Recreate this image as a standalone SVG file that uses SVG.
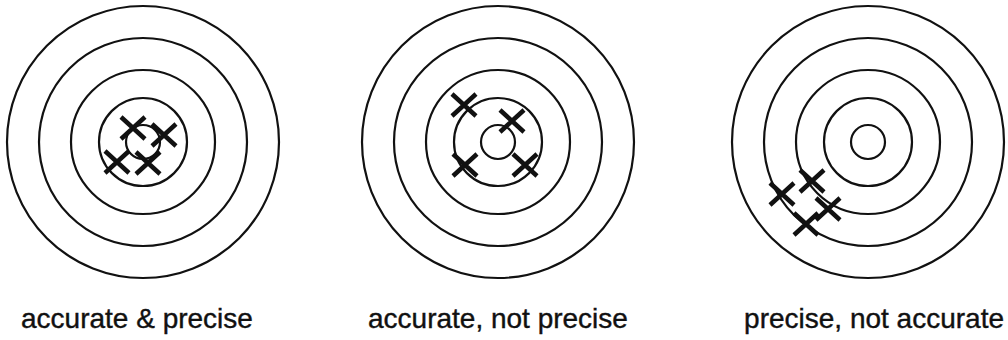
<svg xmlns="http://www.w3.org/2000/svg" xmlns:xlink="http://www.w3.org/1999/xlink" width="1008" height="340" viewBox="0 0 1008 340">
  <style>
    .ring { fill: none; stroke: #111; stroke-width: 2.2; }
    .hit { fill: none; stroke: #111; stroke-width: 4.5; stroke-linecap: butt; }
    .label { font-family: "Liberation Sans", Arial, sans-serif; font-size: 28px; fill: #111; stroke: #111; stroke-width: 0.4; }
  </style>
  <defs>
    <path id="x" class="hit" d="M-12,-11 L12,11 M-12,11 L12,-11"/>
  </defs>
  <rect width="1008" height="340" fill="#fff"/>

  <g id="target-accurate-precise">
    <circle class="ring" cx="143" cy="142" r="136"/>
    <circle class="ring" cx="143" cy="142" r="104"/>
    <circle class="ring" cx="143" cy="142" r="72"/>
    <circle class="ring" cx="143" cy="142" r="44"/>
    <circle class="ring" cx="143" cy="142" r="17"/>
    <use xlink:href="#x" href="#x" x="133" y="128"/>
    <use xlink:href="#x" href="#x" x="164" y="135"/>
    <use xlink:href="#x" href="#x" x="117" y="162"/>
    <use xlink:href="#x" href="#x" x="148" y="163"/>
    <text class="label" x="21" y="328">accurate &amp; precise</text>
  </g>

  <g id="target-accurate-not-precise">
    <circle class="ring" cx="498" cy="142" r="136"/>
    <circle class="ring" cx="498" cy="142" r="104"/>
    <circle class="ring" cx="498" cy="142" r="72"/>
    <circle class="ring" cx="498" cy="142" r="44"/>
    <circle class="ring" cx="498" cy="142" r="17"/>
    <use xlink:href="#x" href="#x" x="464" y="105"/>
    <use xlink:href="#x" href="#x" x="512" y="121"/>
    <use xlink:href="#x" href="#x" x="465" y="165"/>
    <use xlink:href="#x" href="#x" x="525" y="165"/>
    <text class="label" x="368" y="328">accurate, not precise</text>
  </g>

  <g id="target-precise-not-accurate">
    <circle class="ring" cx="868" cy="142" r="136"/>
    <circle class="ring" cx="868" cy="142" r="104"/>
    <circle class="ring" cx="868" cy="142" r="72"/>
    <circle class="ring" cx="868" cy="142" r="44"/>
    <circle class="ring" cx="868" cy="142" r="17"/>
    <use xlink:href="#x" href="#x" x="812" y="181"/>
    <use xlink:href="#x" href="#x" x="782" y="194"/>
    <use xlink:href="#x" href="#x" x="828" y="209"/>
    <use xlink:href="#x" href="#x" x="806" y="224"/>
    <text class="label" x="1004" y="328" text-anchor="end">precise, not accurate</text>
  </g>

  <g id="connectors"/>
</svg>
